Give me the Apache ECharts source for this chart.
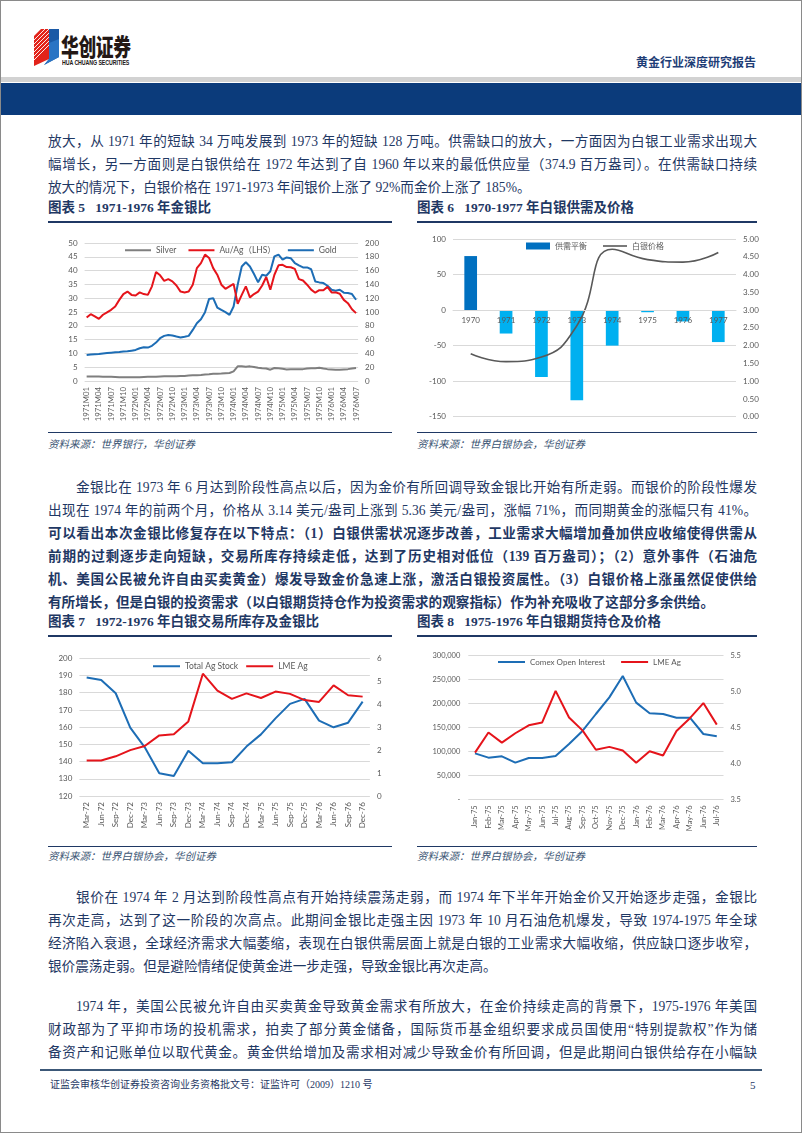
<!DOCTYPE html>
<html lang="zh-CN">
<head>
<meta charset="utf-8">
<script src="https://cdn.jsdelivr.net/npm/echarts@6/dist/echarts.min.js"></script>
<style>
  html,body{margin:0;padding:0;background:#fff;}
  body{width:802px;height:1133px;position:relative;overflow:hidden;}
  .frame{position:absolute;left:0;top:0;width:800px;height:1131px;border:1px solid #8a8a8a;}
  .p{position:absolute;left:48px;width:709px;font-size:13.6px;line-height:23px;color:#1f3864;
     font-family:"Liberation Serif","Noto Sans CJK SC",serif;}
  .p div{text-align:justify;text-align-last:justify;}
  .p div.last{text-align-last:left;}
  .p div.ind{text-indent:28px;}
  .b{font-weight:bold;}
  .ttl{position:absolute;font-size:13.5px;line-height:20px;font-weight:bold;color:#1f3864;
       font-family:"Liberation Serif","Noto Sans CJK SC",serif;white-space:nowrap;}
  .rule{position:absolute;height:1.5px;background:#1f3864;}
  .thin{position:absolute;height:1px;background:#1f3864;}
  .src{position:absolute;font-size:10.5px;line-height:16px;font-style:italic;color:#3b5573;
       font-family:"Liberation Serif","Noto Sans CJK SC",serif;white-space:nowrap;}
  .chart{position:absolute;width:360px;height:205px;}
</style>
</head>
<body>
<div class="frame"></div>

<!-- header -->
<svg style="position:absolute;left:34px;top:29px" width="26" height="38" viewBox="0 0 26 38">
  <polygon points="7,0 15,0 15,30 0,37 0,7" fill="#e2231a"/>
  <g stroke="#fff" stroke-width="0.9">
    <line x1="0" y1="11" x2="11" y2="0"/><line x1="0" y1="15" x2="15" y2="0"/>
    <line x1="0" y1="19" x2="15" y2="4"/><line x1="0" y1="23" x2="15" y2="8"/>
    <line x1="0" y1="27" x2="15" y2="12"/><line x1="0" y1="31" x2="15" y2="16"/>
  </g>
  <polygon points="15,0 25,0 25,28 10,36 15,30" fill="#1b5aa6"/>
  <polygon points="15,14 25,10 25,28 10,36 15,30" fill="#2a74c4"/>
</svg>
<div style="position:absolute;left:61px;top:32px;font-size:24px;line-height:27px;font-weight:900;color:#231815;font-family:'Noto Sans CJK SC';letter-spacing:-0.5px;transform:scaleX(0.74);transform-origin:0 0;white-space:nowrap;">华创证券</div>
<div style="position:absolute;left:62px;top:59px;font-size:6.6px;line-height:8px;font-weight:bold;color:#231815;font-family:'Liberation Sans';letter-spacing:-0.1px;white-space:nowrap;transform:scaleX(0.8);transform-origin:0 0;">HUA CHUANG SECURITIES</div>
<div style="position:absolute;left:636px;top:54px;font-size:12px;line-height:16px;font-weight:bold;color:#1f3e77;font-family:'Noto Sans CJK SC';white-space:nowrap;">黄金行业深度研究报告</div>
<div style="position:absolute;left:1px;top:77px;width:800px;height:5px;background:#d2d2d2;"></div>
<div style="position:absolute;left:1px;top:83px;width:800px;height:32px;background:#0b3b7b;"></div>

<!-- paragraph 1 -->
<div class="p" style="top:129.5px;">
  <div>放大，从 1971 年的短缺 34 万吨发展到 1973 年的短缺 128 万吨。供需缺口的放大，一方面因为白银工业需求出现大</div>
  <div>幅增长，另一方面则是白银供给在 1972 年达到了自 1960 年以来的最低供应量（374.9 百万盎司）。在供需缺口持续</div>
  <div class="last">放大的情况下，白银价格在 1971-1973 年间银价上涨了 92%而金价上涨了 185%。</div>
</div>

<div class="ttl" style="left:48px;top:198px;">图表 5&nbsp;&nbsp;&nbsp;1971-1976 年金银比</div>
<div class="ttl" style="left:417px;top:198px;">图表 6&nbsp;&nbsp;&nbsp;1970-1977 年白银供需及价格</div>
<div class="rule" style="left:48px;top:221px;width:344px;"></div>
<div class="rule" style="left:417px;top:221px;width:340px;"></div>

<div id="c1" class="chart" style="left:40px;top:225px;"></div>
<div id="c2" class="chart" style="left:415px;top:225px;"></div>

<div class="thin" style="left:48px;top:432px;width:344px;"></div>
<div class="thin" style="left:417px;top:432px;width:340px;"></div>
<div class="src" style="left:48px;top:437px;">资料来源：世界银行，华创证券</div>
<div class="src" style="left:417px;top:437px;">资料来源：世界白银协会，华创证券</div>

<!-- paragraph 2 -->
<div class="p" style="top:475.5px;">
  <div class="ind">金银比在 1973 年 6 月达到阶段性高点以后，因为金价有所回调导致金银比开始有所走弱。而银价的阶段性爆发</div>
  <div>出现在 1974 年的前两个月，价格从 3.14 美元/盎司上涨到 5.36 美元/盎司，涨幅 71%，而同期黄金的涨幅只有 41%。</div>
  <div class="b">可以看出本次金银比修复存在以下特点：（1）白银供需状况逐步改善，工业需求大幅增加叠加供应收缩使得供需从</div>
  <div class="b">前期的过剩逐步走向短缺，交易所库存持续走低，达到了历史相对低位（139 百万盎司）；（2）意外事件（石油危</div>
  <div class="b">机、美国公民被允许自由买卖黄金）爆发导致金价急速上涨，激活白银投资属性。（3）白银价格上涨虽然促使供给</div>
  <div class="b last">有所增长，但是白银的投资需求（以白银期货持仓作为投资需求的观察指标）作为补充吸收了这部分多余供给。</div>
</div>

<div class="ttl" style="left:48px;top:612px;">图表 7&nbsp;&nbsp;&nbsp;1972-1976 年白银交易所库存及金银比</div>
<div class="ttl" style="left:417px;top:612px;">图表 8&nbsp;&nbsp;&nbsp;1975-1976 年白银期货持仓及价格</div>
<div class="rule" style="left:48px;top:635px;width:344px;"></div>
<div class="rule" style="left:417px;top:635px;width:340px;"></div>

<div id="c3" class="chart" style="left:40px;top:640px;"></div>
<div id="c4" class="chart" style="left:415px;top:640px;"></div>

<div class="thin" style="left:48px;top:846px;width:344px;"></div>
<div class="thin" style="left:417px;top:846px;width:340px;"></div>
<div class="src" style="left:48px;top:849px;">资料来源：世界白银协会，华创证券</div>
<div class="src" style="left:417px;top:849px;">资料来源：世界白银协会，华创证券</div>

<!-- paragraph 3 -->
<div class="p" style="top:885.5px;">
  <div class="ind">银价在 1974 年 2 月达到阶段性高点有开始持续震荡走弱，而 1974 年下半年开始金价又开始逐步走强，金银比</div>
  <div>再次走高，达到了这一阶段的次高点。此期间金银比走强主因 1973 年 10 月石油危机爆发，导致 1974-1975 年全球</div>
  <div>经济陷入衰退，全球经济需求大幅萎缩，表现在白银供需层面上就是白银的工业需求大幅收缩，供应缺口逐步收窄，</div>
  <div class="last">银价震荡走弱。但是避险情绪促使黄金进一步走强，导致金银比再次走高。</div>
</div>

<!-- paragraph 4 -->
<div class="p" style="top:994.5px;">
  <div class="ind">1974 年，美国公民被允许自由买卖黄金导致黄金需求有所放大，在金价持续走高的背景下，1975-1976 年美国</div>
  <div>财政部为了平抑市场的投机需求，拍卖了部分黄金储备，国际货币基金组织要求成员国使用“特别提款权”作为储</div>
  <div>备资产和记账单位以取代黄金。黄金供给增加及需求相对减少导致金价有所回调，但是此期间白银供给存在小幅缺</div>
</div>

<!-- footer -->
<div style="position:absolute;left:40px;top:1069px;width:722px;height:2px;background:#3c5878;"></div>
<div style="position:absolute;left:50px;top:1078px;font-size:10px;line-height:14px;color:#1f3864;font-family:'Liberation Serif','Noto Sans CJK SC',serif;white-space:nowrap;">证监会审核华创证券投资咨询业务资格批文号：证监许可（2009）1210 号</div>
<div style="position:absolute;left:750px;top:1078px;font-size:11px;line-height:14px;color:#1f3864;font-family:'Liberation Serif',serif;">5</div>

<script>
// ---------- Chart 5: 1971-1976 gold/silver ratio ----------
const months1 = [
 '1971M01','1971M02','1971M03','1971M04','1971M05','1971M06','1971M07','1971M08','1971M09','1971M10','1971M11','1971M12',
 '1972M01','1972M02','1972M03','1972M04','1972M05','1972M06','1972M07','1972M08','1972M09','1972M10','1972M11','1972M12',
 '1973M01','1973M02','1973M03','1973M04','1973M05','1973M06','1973M07','1973M08','1973M09','1973M10','1973M11','1973M12',
 '1974M01','1974M02','1974M03','1974M04','1974M05','1974M06','1974M07','1974M08','1974M09','1974M10','1974M11','1974M12',
 '1975M01','1975M02','1975M03','1975M04','1975M05','1975M06','1975M07','1975M08','1975M09','1975M10','1975M11','1975M12',
 '1976M01','1976M02','1976M03','1976M04','1976M05','1976M06','1976M07'];
const silverPrice = [
 1.6,1.6,1.6,1.6,1.55,1.55,1.5,1.45,1.4,1.35,1.35,1.35,
 1.4,1.4,1.45,1.5,1.5,1.55,1.65,1.7,1.7,1.7,1.75,1.8,
 1.85,1.95,2.05,2.1,2.2,2.35,2.45,2.6,2.6,2.7,2.85,2.9,
 3.5,5.3,5.3,5.2,5.3,5.1,4.8,4.6,4.5,4.1,4.7,4.6,
 4.4,4.2,4.3,4.3,4.3,4.3,4.5,4.6,4.6,4.8,4.5,4.3,
 4.2,4.1,4.1,4.2,4.3,4.5,4.7];
const auagRatio = [
 23.0,24.2,23.4,22.5,24.0,24.9,25.8,27.0,29.4,31.5,32.4,31.2,
 31.0,32.1,31.5,31.2,34.3,39.5,38.3,36.3,36.9,36.1,34.6,32.4,
 32.1,32.4,34.9,40.9,42.7,45.8,44.6,40.9,38.5,34.9,33.4,34.3,
 35.2,28.0,31.2,34.3,30.3,31.5,32.4,34.6,37.7,33.1,38.5,41.9,
 42.1,41.3,41.2,40.6,36.9,36.4,34.9,33.1,32.0,32.9,32.9,34.1,
 32.1,32.1,31.6,29.4,28.2,26.0,24.6];
const goldPrice = [
 37.8,38.5,38.8,39.0,40.0,40.5,41.0,41.5,42.0,42.6,43.0,44.0,
 45.0,47.5,49.0,48.4,51.0,55.7,62.0,65.4,66.8,65.9,64.4,63.0,
 64.0,65.4,74.0,83.8,89.6,99.8,119.0,120.0,106.5,103.0,99.8,95.9,
 108.0,139.5,166.0,172.0,166.0,155.0,143.0,154.0,152.5,159.0,180.6,183.0,
 175.8,179.0,178.0,171.0,167.6,164.6,164.6,162.0,144.3,142.9,141.9,138.0,
 132.2,130.8,132.2,128.0,127.4,126.0,117.7];

// ---------- Chart 6: 1970-1977 supply/demand balance & price ----------
const years2 = ['1970','1971','1972','1973','1974','1975','1976','1977'];
const balance2 = [76, -33, -94, -127, -50, -3, -16, -45];
const silverAnnual = [1.77, 1.55, 1.68, 2.56, 4.71, 4.42, 4.35, 4.62];

// ---------- Chart 7: 1972-1976 exchange stock & LME Ag ----------
const quarters3 = ['Mar-72','Jun-72','Sep-72','Dec-72','Mar-73','Jun-73','Sep-73','Dec-73',
 'Mar-74','Jun-74','Sep-74','Dec-74','Mar-75','Jun-75','Sep-75','Dec-75','Mar-76','Jun-76','Sep-76','Dec-76'];
const totalStock3 = [188.8,187.4,179.7,159.7,148.3,133.2,131.6,146.3,139.0,139.0,139.6,148.7,
 155.8,165.1,173.5,176.4,163.8,159.9,162.6,174.8];
const lmeAg3 = [1.55,1.55,1.73,2.0,2.18,2.64,2.69,3.25,5.33,4.59,4.23,4.47,4.27,4.55,4.45,4.18,
 4.10,4.82,4.39,4.33];

// ---------- Chart 8: 1975-1976 Comex open interest & LME Ag ----------
const months4 = ['Jan-75','Feb-75','Mar-75','Apr-75','May-75','Jun-75','Jul-75','Aug-75','Sep-75',
 'Oct-75','Nov-75','Dec-75','Jan-76','Feb-76','Mar-76','Apr-76','May-76','Jun-76','Jul-76'];
const comexOI4 = [96000,87000,89800,76600,86300,86300,90500,115500,142700,178200,213000,257500,
 201900,179600,178200,170500,170500,136400,131600];
const lmeAg4 = [4.15,4.43,4.29,4.42,4.53,4.57,5.01,4.64,4.46,4.19,4.23,4.18,4.01,4.17,4.11,4.45,
 4.63,4.84,4.54];

const FONT = 'Lato, "Noto Sans CJK SC", sans-serif';
const LBL = '#595959', GRID = '#d9d9d9';
const BLUE = '#1d6db5', RED = '#e5141b', GRAY = '#7f7f7f';

function valAxis(min, max, interval, opts) {
  return Object.assign({
    type: 'value', min: min, max: max, interval: interval,
    axisLine: {show: false}, axisTick: {show: false},
    axisLabel: {color: LBL, fontSize: 8, fontFamily: FONT, margin: 7},
    splitLine: {show: true, lineStyle: {color: GRID, width: 1}}
  }, opts || {});
}
function lineSeries(name, data, color, yIdx, extra) {
  return Object.assign({
    name: name, type: 'line', data: data, yAxisIndex: yIdx, symbol: 'none',
    lineStyle: {color: color, width: 2}, itemStyle: {color: color}
  }, extra || {});
}

// Chart 5
echarts.init(document.getElementById('c1')).setOption({
  animation: false,
  textStyle: {fontFamily: FONT},
  grid: {left: 44.6, top: 18, width: 273.5, height: 138},
  legend: {left: 80, top: 16, itemWidth: 26, itemHeight: 2, icon: 'rect', itemGap: 12,
    textStyle: {fontSize: 8.5, color: LBL, fontFamily: FONT},
    data: ['Silver', 'Au/Ag（LHS）', 'Gold']},
  xAxis: {type: 'category', data: months1, boundaryGap: true,
    axisLine: {show: false}, axisTick: {show: false},
    axisLabel: {interval: 2, rotate: 90, fontSize: 7.8, color: LBL, fontFamily: FONT, margin: 6}},
  yAxis: [valAxis(0, 50, 5), valAxis(0, 200, 20, {splitLine: {show: false}})],
  series: [
    lineSeries('Silver', silverPrice, GRAY, 0),
    lineSeries('Gold', goldPrice, BLUE, 1),
    lineSeries('Au/Ag（LHS）', auagRatio, RED, 0)
  ]
});

// Chart 6
const grid2H = 177.7, y2Min = -150, y2Max = 100;
echarts.init(document.getElementById('c2')).setOption({
  animation: false,
  textStyle: {fontFamily: FONT},
  grid: {left: 38, top: 14, width: 283, height: grid2H},
  legend: {left: 106, top: 12, itemWidth: 24, itemHeight: 7, itemGap: 16,
    textStyle: {fontSize: 8, color: LBL, fontFamily: FONT},
    data: [{name: '供需平衡', icon: 'rect'}, {name: '白银价格', icon: 'path://M0,0H30V2H0Z'}]},
  xAxis: {type: 'category', data: years2, boundaryGap: true, position: 'bottom', z: 10,
    offset: -grid2H * (0 - y2Min) / (y2Max - y2Min),
    axisLine: {show: true, onZero: false, lineStyle: {color: GRID}},
    axisTick: {show: false},
    axisLabel: {fontSize: 8, color: LBL, fontFamily: FONT, margin: 6}},
  yAxis: [valAxis(y2Min, y2Max, 50),
          valAxis(0, 5, 0.5, {splitLine: {show: false},
            axisLabel: {color: LBL, fontSize: 8, fontFamily: FONT, margin: 7,
              formatter: v => v.toFixed(2)}})],
  series: [
    {name: '供需平衡', type: 'bar', yAxisIndex: 0, barWidth: 12.7, z: 1,
     itemStyle: {color: '#0070c0'},
     data: balance2.map((v, i) => ({value: v, itemStyle: {color: i === 0 ? '#0070c0' : '#00b0f0'}}))},
    lineSeries('白银价格', silverAnnual, '#595959', 1, {smooth: true, z: 3, lineStyle: {color: '#595959', width: 1.6}})
  ]
});

// Chart 7
echarts.init(document.getElementById('c3')).setOption({
  animation: false,
  textStyle: {fontFamily: FONT},
  grid: {left: 39.4, top: 18.3, width: 290.5, height: 137.7},
  legend: {left: 108, top: 17, itemWidth: 27, itemHeight: 2, icon: 'rect', itemGap: 8,
    textStyle: {fontSize: 8.5, color: LBL, fontFamily: FONT},
    data: ['Total Ag Stock', 'LME Ag']},
  xAxis: {type: 'category', data: quarters3, boundaryGap: true,
    axisLine: {show: false}, axisTick: {show: false},
    axisLabel: {interval: 0, rotate: 90, fontSize: 8, color: LBL, fontFamily: FONT, margin: 6}},
  yAxis: [valAxis(120, 200, 10), valAxis(0, 6, 1, {splitLine: {show: false}})],
  series: [
    lineSeries('Total Ag Stock', totalStock3, BLUE, 0),
    lineSeries('LME Ag', lmeAg3, RED, 1)
  ]
});

// Chart 8
echarts.init(document.getElementById('c4')).setOption({
  animation: false,
  textStyle: {fontFamily: FONT},
  grid: {left: 53.3, top: 15.7, width: 255.2, height: 143.6},
  legend: {left: 78, top: 13, itemWidth: 27, itemHeight: 2, icon: 'rect', itemGap: 16,
    textStyle: {fontSize: 8, color: LBL, fontFamily: FONT},
    data: ['Comex Open Interest', 'LME Ag']},
  xAxis: {type: 'category', data: months4, boundaryGap: true,
    axisLine: {show: false}, axisTick: {show: false},
    axisLabel: {interval: 0, rotate: 90, fontSize: 7.5, color: LBL, fontFamily: FONT, margin: 6}},
  yAxis: [valAxis(0, 300000, 50000, {axisLabel: {color: LBL, fontSize: 7.5, fontFamily: FONT, margin: 8,
            formatter: v => v === 0 ? '-' : v.toLocaleString('en-US')}}),
          valAxis(3.5, 5.5, 0.5, {splitLine: {show: false},
            axisLabel: {color: LBL, fontSize: 7.5, fontFamily: FONT, margin: 7, formatter: v => v.toFixed(1)}})],
  series: [
    lineSeries('Comex Open Interest', comexOI4, BLUE, 0),
    lineSeries('LME Ag', lmeAg4, RED, 1)
  ]
});
</script>
</body>
</html>
